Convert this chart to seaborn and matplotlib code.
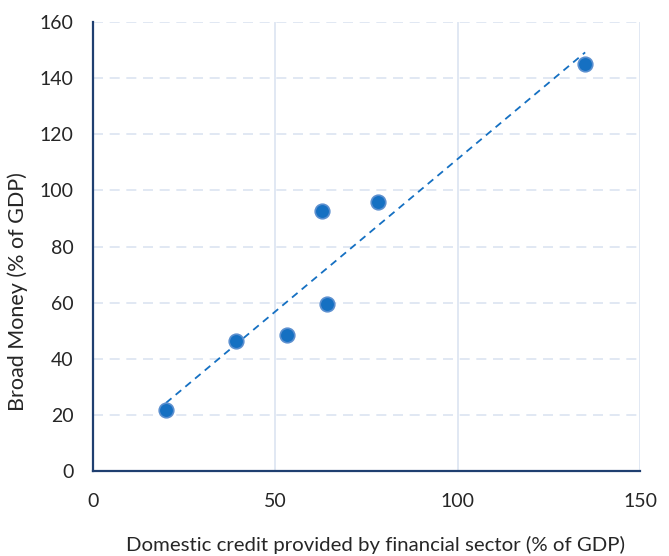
import numpy as np
import pandas as pd
import seaborn as sns
from matplotlib import pyplot as plt

# values
credit = [20.0, 39.2, 53.2, 62.8, 64.2, 78.1, 134.9]
broad_money = [21.7, 46.3, 48.5, 92.7, 59.5, 95.9, 145.0]

xlabel = "Domestic credit provided by financial sector (% of GDP)"
ylabel = "Broad Money (% of GDP)"

sns.set_theme(style="white")
plt.rcParams["font.family"] = ["Lato", "DejaVu Sans"]

navy = "#1f3f70"
grid_col = "#dbe4f1"
point_col = "#1570c2"

df = pd.DataFrame({"credit": credit, "money": broad_money})

fig = plt.figure(figsize=(6.69, 5.56), dpi=100)
ax = fig.add_axes([0.139, 0.153, 0.818, 0.807])

# grid
ax.set_axisbelow(True)
ax.xaxis.grid(True, color=grid_col, linewidth=1.2, linestyle="-")
ax.yaxis.grid(True, color=grid_col, linewidth=1.2, linestyle=(0, (6, 4)))

# trend line
slope, intercept = np.polyfit(df["credit"], df["money"], 1)
xs = np.array([df["credit"].min(), df["credit"].max()])
ax.plot(xs, slope * xs + intercept, color=point_col, linestyle=(0, (4, 3)),
        linewidth=1.3, zorder=2)

sns.scatterplot(data=df, x="credit", y="money", ax=ax, s=110,
                color=point_col, edgecolor="#5b8fcf", linewidth=1.2, zorder=3)

ax.set_xlim(0, 150)
ax.set_ylim(0, 160)
ax.set_xticks([0, 50, 100, 150])
ax.set_yticks(range(0, 161, 20))

for side in ["top", "right"]:
    ax.spines[side].set_visible(False)
for side in ["left", "bottom"]:
    ax.spines[side].set_color(navy)
    ax.spines[side].set_linewidth(1.6)

ax.tick_params(axis="both", direction="out", length=6, width=1.4,
               color=navy, labelsize=14, labelcolor="#262626", pad=8)
ax.tick_params(axis="x", pad=10)

ax.set_xlabel(xlabel, fontsize=14.7, color="#262626")
ax.xaxis.set_label_coords(0.517, -0.145)
ax.set_ylabel(ylabel, fontsize=15.5, color="#262626")
ax.yaxis.set_label_coords(-0.118, 0.40)

plt.savefig("out.png", dpi=100)
